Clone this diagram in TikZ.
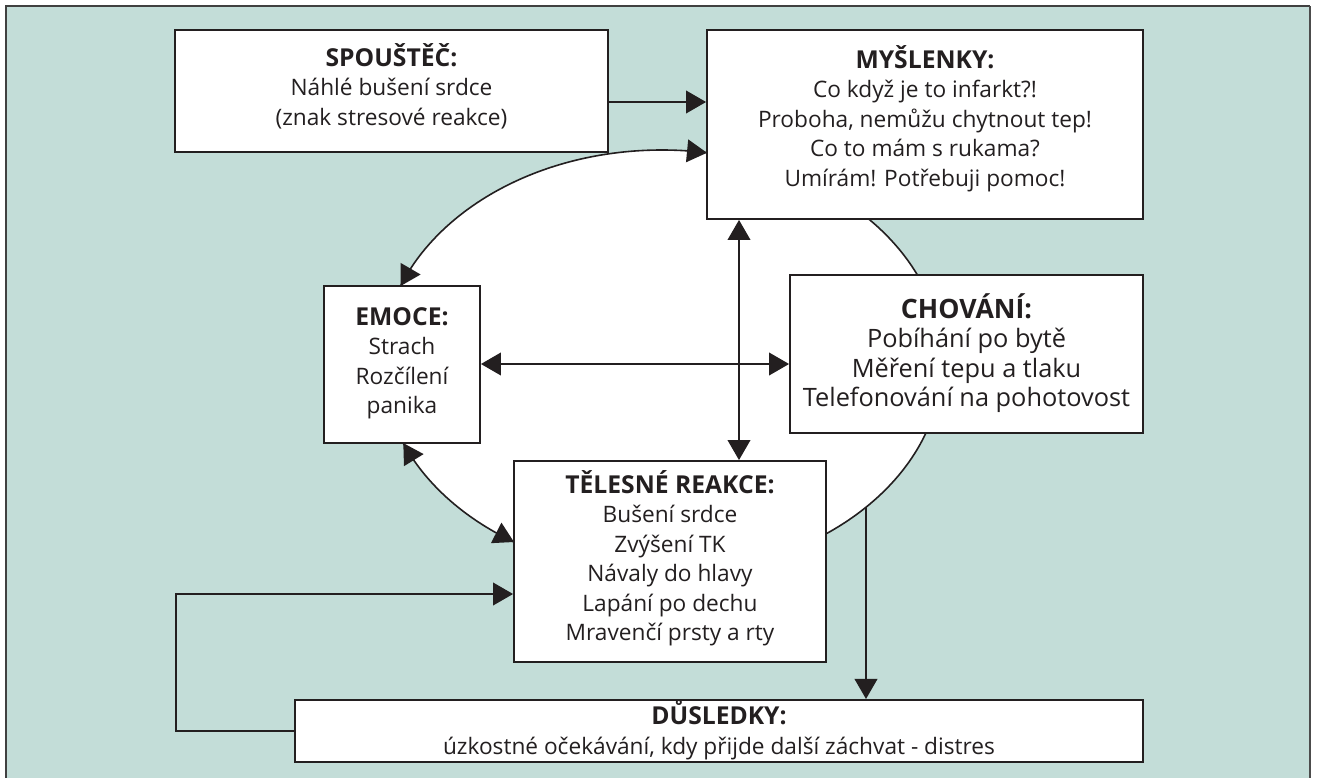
\documentclass[tikz,border=0pt]{standalone}
\usepackage{fontspec}
\setmainfont{Open Sans}
\usetikzlibrary{arrows.meta}
\definecolor{bgteal}{RGB}{195,221,216}
\definecolor{ink}{RGB}{35,31,32}
\newcommand\dgbody{\fontsize{17}{22.1}\selectfont}
\newcommand\dghead[1]{{\fontsize{18.5}{22.1}\selectfont\bfseries #1}}
\newcommand\dgbigbody{\fontsize{19}{22.1}\selectfont}
\newcommand\dgbighead[1]{{\fontsize{20}{22.1}\selectfont\bfseries #1}}
\newcommand\dgdp[1]{\rule[-#1]{0pt}{0pt}}
\begin{document}
\begin{tikzpicture}[x=0.75pt,y=-0.75pt,
  box/.style={draw=ink,line width=1.4pt,fill=white,inner sep=0pt,align=center,text=ink,font=\dgbody},
  conn/.style={draw=ink,line width=1.2pt},
  >={Triangle[length=15pt,width=17pt]}]
\useasboundingbox (0,0) rectangle (1317,778);
\clip (0,0) rectangle (1317,778);
% background frame
\fill[bgteal] (6,6) rectangle (1310,800);
\draw[line width=0.8pt,draw=black!75] (6,800) -- (6,6) -- (1310,6);
\draw[line width=2pt,draw=black!70] (1310,6) -- (1310,800);
% ellipse (the cycle)
\coordinate (ec) at (662,362);
\filldraw[fill=white,draw=ink,line width=1.2pt] (ec) ellipse [x radius=210pt,y radius=159pt];
% boxes
\node[box,minimum width=324.75pt,minimum height=91.5pt] (SP) at (391.5,91)
  {\dghead{SPOUŠTĚČ:}\\Náhlé bušení srdce\\(znak stresové reakce)\dgdp{10pt}};
\node[box,minimum width=327pt,minimum height=141.75pt] (MY) at (925,124.5)
  {\dghead{MYŠLENKY:}\\Co když je to infarkt?!\\Proboha, nemůžu chytnout tep!\\Co to mám s rukama?\\Umírám! Potřebuji pomoc!\dgdp{13pt}};
\node[box,minimum width=117pt,minimum height=117.75pt] (EM) at (402,364.5)
  {\dghead{EMOCE:}\\Strach\\Rozčílení\\panika\dgdp{6pt}};
\node[box,minimum width=264.75pt,minimum height=118.5pt,font=\dgbigbody] (CH) at (966.5,354)
  {\dgbighead{CHOVÁNÍ:}\\Pobíhání po bytě\\Měření tepu a tlaku\\Telefonování na pohotovost\dgdp{6pt}};
\node[box,minimum width=234pt,minimum height=150.75pt] (TE) at (670,561.5)
  {\dghead{TĚLESNÉ REAKCE:}\\Bušení srdce\\Zvýšení TK\\Návaly do hlavy\\Lapání po dechu\\Mravenčí prsty a rty\dgdp{9pt}};
\node[box,minimum width=636pt,minimum height=46.5pt] (DU) at (719,731)
  {\dghead{DŮSLEDKY:}\\úzkostné očekávání, kdy přijde další záchvat - distres\dgdp{6pt}};
% arrowheads at the ends of the curved (elliptic) connectors
\coordinate (t1) at (707,152.8);
\coordinate (t2) at (400.6,286);
\coordinate (t3) at (403.3,443.1);
\coordinate (t4) at (514,542);
\draw[conn,->] (687.0,150.85) -- (t1);
\draw[conn,->] (410.7,268.6) -- (t2);
\draw[conn,->] (413.9,460.3) -- (t3);
\draw[conn,->] (496.4,533.0) -- (t4);
% straight connectors
\coordinate (a1) at (0,102);
\draw[conn,->] (SP.east |- a1) -- (MY.west |- a1);
\coordinate (h1) at (0,364);
\draw[conn,<->] (EM.east |- h1) -- (CH.west |- h1);
\coordinate (v1) at (739,0);
\draw[conn,<->] (MY.south -| v1) -- (TE.north -| v1);
\coordinate (e1) at (866,507.1);
\draw[conn,->] (e1) -- (DU.north -| e1);
\coordinate (f1) at (176,594);
\draw[conn,->] (DU.west) -| (f1) -- (TE.west |- f1);
\end{tikzpicture}
\end{document}
